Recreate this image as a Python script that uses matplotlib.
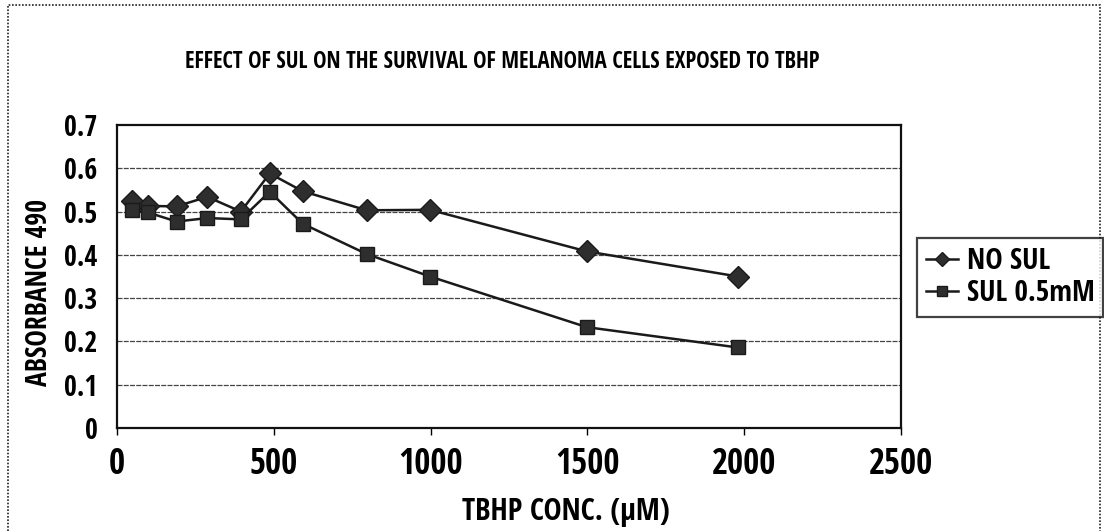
import matplotlib
matplotlib.use("Agg")
import matplotlib.pyplot as plt
from matplotlib.patches import Rectangle

plt.rcParams['font.family'] = ['Open Sans Condensed', 'DejaVu Sans']
plt.rcParams['font.weight'] = 'bold'

# ---- data ----
title = "EFFECT OF SUL ON THE SURVIVAL OF MELANOMA CELLS EXPOSED TO TBHP"
x_label = "TBHP CONC. (\u03bcM)"
y_label = "ABSORBANCE 490"
series_names = ["NO SUL", "SUL 0.5mM"]
conc = [48, 98, 190, 288, 395, 487, 592, 796, 998, 1498, 1980]
no_sul = [0.524, 0.513, 0.512, 0.534, 0.500, 0.588, 0.547, 0.503, 0.504, 0.408, 0.350]
sul_05 = [0.503, 0.498, 0.477, 0.485, 0.482, 0.546, 0.472, 0.402, 0.350, 0.233, 0.186]
x_ticks = [0, 500, 1000, 1500, 2000, 2500]
y_ticks = [0, 0.1, 0.2, 0.3, 0.4, 0.5, 0.6, 0.7]
y_ticklabels = ["0", "0.1", "0.2", "0.3", "0.4", "0.5", "0.6", "0.7"]

W, H = 1104, 531
fig = plt.figure(figsize=(W / 100, H / 100), dpi=100)
ax = fig.add_axes([117 / W, 1 - 428 / H, (901 - 117) / W, (428 - 125) / H])

ax.set_xlim(0, 2500)
ax.set_ylim(0, 0.7)
ax.set_xticks(x_ticks)
ax.set_xticklabels([str(v) for v in x_ticks])
ax.set_yticks(y_ticks)
ax.set_yticklabels(y_ticklabels)

for v in y_ticks[1:-1]:
    ax.axhline(v, color='#444444', lw=0.9, ls=(0, (4, 1)), zorder=1)

dark = '#1a1a1a'
ax.plot(conc, no_sul, color=dark, lw=1.8, marker='D', markersize=11,
        markerfacecolor='#2e2e2e', markeredgecolor=dark, label=series_names[0], zorder=3)
ax.plot(conc, sul_05, color=dark, lw=1.8, marker='s', markersize=10,
        markerfacecolor='#2e2e2e', markeredgecolor=dark, label=series_names[1], zorder=3)

for s in ax.spines.values():
    s.set_linewidth(1.6)
    s.set_color('#111111')

ax.tick_params(axis='y', length=0, pad=14, labelsize=20)
ax.tick_params(axis='x', direction='out', length=5, width=1, pad=9, labelsize=25)
for lab in ax.get_xticklabels() + ax.get_yticklabels():
    lab.set_fontweight('bold')

fig.text(502 / W, 1 - 62 / H, title, ha='center', va='center',
         fontsize=16.3, fontweight='bold')
fig.text(566 / W, 1 - 512 / H, x_label, ha='center', va='center',
         fontsize=22, fontweight='bold')
fig.text(40 / W, 1 - 292 / H, y_label, ha='center', va='center', rotation=90,
         fontsize=20, fontweight='bold')

leg = fig.legend(loc='upper left', bbox_to_anchor=(917 / W, 1 - 238 / H),
                 frameon=True, fancybox=False, fontsize=21,
                 handlelength=1.1, handletextpad=0.3, borderpad=0.3,
                 labelspacing=0.12, borderaxespad=0, markerscale=0.65)
leg.get_frame().set_edgecolor('#111111')
leg.get_frame().set_linewidth(1.6)
for t in leg.get_texts():
    t.set_fontweight('bold')

fig.patches.append(Rectangle((8 / W, -0.02), (1100 - 8) / W, 1 - 5 / H + 0.02,
                             transform=fig.transFigure, fill=False,
                             edgecolor='#222222', lw=1.2, ls=(0, (1, 1))))

fig.savefig("out.png", dpi=100)
